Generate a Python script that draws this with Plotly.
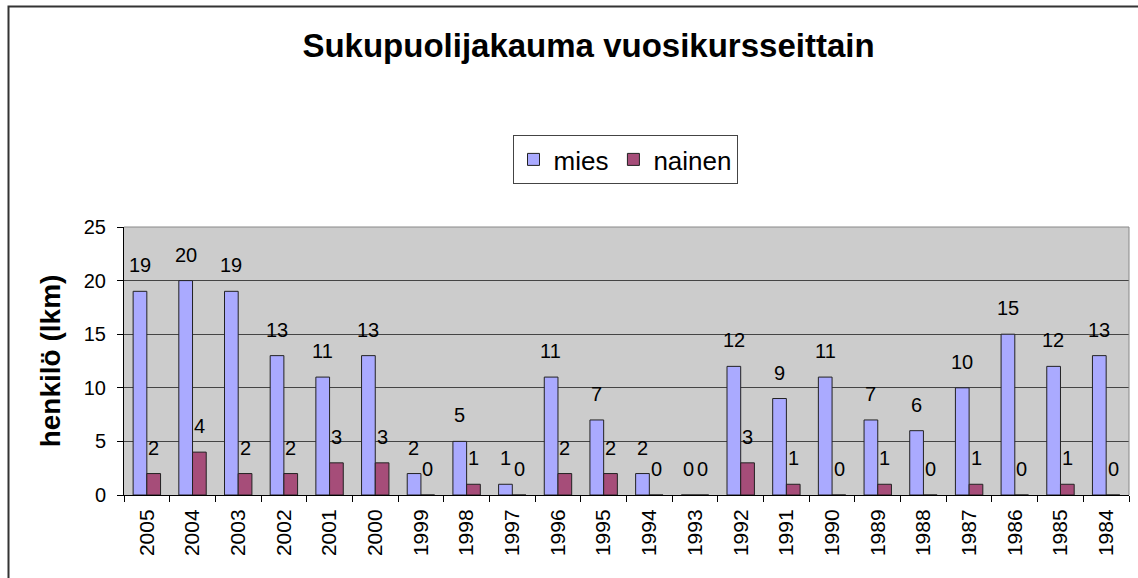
import plotly.graph_objects as go

years = ["2005", "2004", "2003", "2002", "2001", "2000", "1999", "1998", "1997", "1996", "1995",
         "1994", "1993", "1992", "1991", "1990", "1989", "1988", "1987", "1986", "1985", "1984"]
mies = [19, 20, 19, 13, 11, 13, 2, 5, 1, 11, 7, 2, 0, 12, 9, 11, 7, 6, 10, 15, 12, 13]
nainen = [2, 4, 2, 2, 3, 3, 0, 1, 0, 2, 2, 0, 0, 3, 1, 0, 1, 0, 1, 0, 1, 0]
y_ticks = [0, 5, 10, 15, 20, 25]

W, H = 1138, 578
L, R, T, B = 124, 9, 227, 83
pw, ph = W - L - R, H - T - B

FONT = "Liberation Sans, Arial, sans-serif"

fig = go.Figure()
fig.add_trace(go.Bar(x=years, y=mies, name="mies",
                     marker=dict(color="#AAAAFF", line=dict(color="#222222", width=1))))
fig.add_trace(go.Bar(x=years, y=nainen, name="nainen",
                     marker=dict(color="#A64D79", line=dict(color="#222222", width=1))))

annotations = []
for i, v in enumerate(mies):
    annotations.append(dict(x=i, y=v, xref="x", yref="y", text=str(v), showarrow=False,
                            xshift=-7, yshift=26, yanchor="middle",
                            font=dict(family=FONT, size=20, color="black")))
for i, v in enumerate(nainen):
    annotations.append(dict(x=i, y=v, xref="x", yref="y", text=str(v), showarrow=False,
                            xshift=7, yshift=26, yanchor="middle",
                            font=dict(family=FONT, size=20, color="black")))

shapes = [
    dict(type="rect", xref="paper", yref="paper",
         x0=(8.5 - L) / pw, x1=(W + 20 - L) / pw,
         y0=-(B + 20) / ph, y1=1 + (T - 6.5) / ph,
         line=dict(color="#333333", width=2), fillcolor="rgba(0,0,0,0)", layer="below"),
    dict(type="line", xref="paper", yref="paper", x0=0, x1=1, y0=1, y1=1,
         line=dict(color="#888888", width=1)),
    dict(type="line", xref="paper", yref="paper", x0=1, x1=1, y0=0, y1=1,
         line=dict(color="#888888", width=1)),
]

fig.update_layout(
    width=W, height=H,
    margin=dict(l=L, r=R, t=T, b=B, autoexpand=False),
    paper_bgcolor="white",
    plot_bgcolor="#CCCCCC",
    barmode="group", bargap=0.4, bargroupgap=0,
    font=dict(family=FONT, color="black"),
    title=dict(text="<b>Sukupuolijakauma vuosikursseittain</b>", x=588.5 / W, xanchor="center",
               y=1 - 45 / H, yanchor="middle", font=dict(size=33, family=FONT, color="black")),
    legend=dict(orientation="h", x=(625 - L) / pw, xanchor="center",
                y=1 + (T - 135) / ph, yanchor="top",
                bordercolor="#444444", borderwidth=1, bgcolor="white",
                font=dict(size=26, family=FONT), traceorder="normal"),
    xaxis=dict(type="category", tickangle=-90, ticks="outside", tickson="boundaries",
               tickmode="linear", tick0=0, dtick=1, ticklabelstandoff=5,
               ticklen=6, tickcolor="black", showline=True, linecolor="black", linewidth=1,
               tickfont=dict(size=21, family=FONT), showgrid=False),
    yaxis=dict(range=[0, 25], tickvals=y_ticks, ticks="outside", ticklen=6, tickcolor="black",
               showline=True, linecolor="black", linewidth=1, gridcolor="#444444", gridwidth=1,
               tickfont=dict(size=20, family=FONT), zeroline=False, ticklabelstandoff=7,
               title=dict(text="<b>henkilö (lkm)</b>", font=dict(size=28, family=FONT), standoff=14)),
    annotations=annotations,
    shapes=shapes,
    showlegend=True,
)

fig.write_html("out.html", config={"displayModeBar": False},
               post_script="document.body.style.margin='0px';")
